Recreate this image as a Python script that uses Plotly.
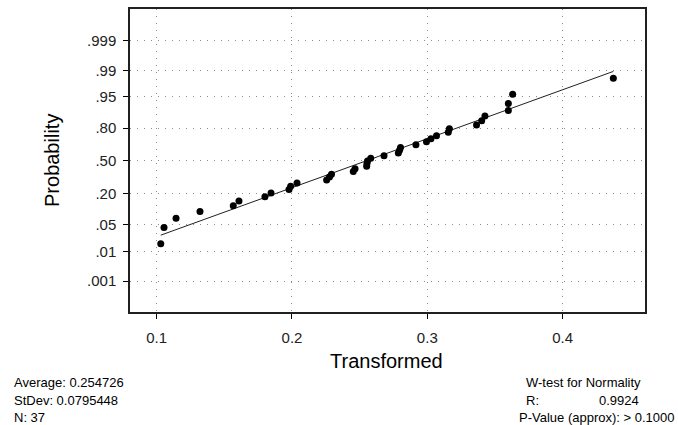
from statistics import NormalDist
import plotly.graph_objects as go

# Transformed observations (sorted), normal probability plot
transformed = [
    0.1030, 0.1054, 0.1143, 0.1320, 0.1566, 0.1608, 0.1800, 0.1845, 0.1978,
    0.1990, 0.2037, 0.2256, 0.2277, 0.2292, 0.2453, 0.2466, 0.2552, 0.2554,
    0.2558, 0.2582, 0.2680, 0.2786, 0.2795, 0.2802, 0.2916, 0.2994, 0.3027,
    0.3068, 0.3155, 0.3163, 0.3364, 0.3402, 0.3426, 0.3599, 0.3599, 0.3631,
    0.4375,
]

# Summary statistics
average = 0.254726
stdev = 0.0795448
n_obs = 37
r_value = 0.9924
p_text = "> 0.1000"

# Probability axis ticks
prob_ticks = [0.001, 0.01, 0.05, 0.20, 0.50, 0.80, 0.95, 0.99, 0.999]
prob_labels = [".001", ".01", ".05", ".20", ".50", ".80", ".95", ".99", ".999"]
x_ticks = [0.1, 0.2, 0.3, 0.4]

nd = NormalDist()
xs = sorted(transformed)
n = len(xs)
# Blom plotting positions mapped to normal scores
zs = [nd.inv_cdf((i + 1 - 0.375) / (n + 0.25)) for i in range(n)]

# Fitted normal line from the stated mean and standard deviation
line_x = [min(xs), max(xs)]
line_z = [(v - average) / stdev for v in line_x]

W, H = 678, 425
ML, MR, MT, MB = 130, 33, 7, 113
PW, PH = W - ML - MR, H - MT - MB

def px(xp):
    return (xp - ML) / PW

def py(yp):
    return 1 - (yp - MT) / PH

FONT = "Liberation Sans, Arial, sans-serif"

fig = go.Figure()
fig.add_trace(go.Scatter(
    x=line_x, y=line_z, mode="lines",
    line=dict(color="#202020", width=1), hoverinfo="skip", showlegend=False,
))
fig.add_trace(go.Scatter(
    x=xs, y=zs, mode="markers",
    marker=dict(color="black", size=7, symbol="circle", line=dict(width=0)),
    showlegend=False,
))

grid = dict(showgrid=True, gridcolor="#8c8c8c", gridwidth=1, griddash="1px,6px")
axis_common = dict(
    showline=True, mirror=True, linecolor="#202020", linewidth=1.5,
    ticks="outside", ticklen=5, tickcolor="black", tickwidth=1,
    zeroline=False, tickfont=dict(family=FONT, size=15, color="#222222"),
)

fig.update_xaxes(
    range=[0.08027, 0.08027 + PW / 1353.0],
    tickvals=x_ticks, ticktext=[str(t) for t in x_ticks],
    ticklabelstandoff=6,
    **grid, **axis_common,
)
fig.update_yaxes(
    range=[-3.881, 3.901],
    tickvals=[nd.inv_cdf(p) for p in prob_ticks], ticktext=prob_labels,
    ticklabelstandoff=4,
    **grid, **axis_common,
)

ann = []
ann.append(dict(text="Transformed", x=px(386), y=py(361), xanchor="center", yanchor="middle",
                font=dict(family=FONT, size=20, color="black")))
ann.append(dict(text="Probability", x=px(52), y=py(160), xanchor="center", yanchor="middle",
                textangle=-90, font=dict(family=FONT, size=20, color="black")))

small = dict(family=FONT, size=13, color="black")
left_lines = [f"Average: {average}", f"StDev: {stdev}", f"N: {n_obs}"]
for txt, yy in zip(left_lines, [383, 401, 418]):
    ann.append(dict(text=txt, x=px(12), y=py(yy), xanchor="left", yanchor="middle", font=small))

ann.append(dict(text="W-test for Normality", x=px(524), y=py(383), xanchor="left", yanchor="middle", font=small))
ann.append(dict(text="R:", x=px(524), y=py(401), xanchor="left", yanchor="middle", font=small))
ann.append(dict(text=f"{r_value:.4f}", x=px(597), y=py(401), xanchor="left", yanchor="middle", font=small))
ann.append(dict(text=f"P-Value (approx): {p_text}", x=px(677), y=py(418), xanchor="right", yanchor="middle", font=small))

for a in ann:
    a.update(xref="paper", yref="paper", showarrow=False)

fig.update_layout(
    width=W, height=H,
    margin=dict(l=ML, r=MR, t=MT, b=MB),
    paper_bgcolor="white", plot_bgcolor="white",
    annotations=ann,
    font=dict(family=FONT),
)

fig.write_html("out.html")
